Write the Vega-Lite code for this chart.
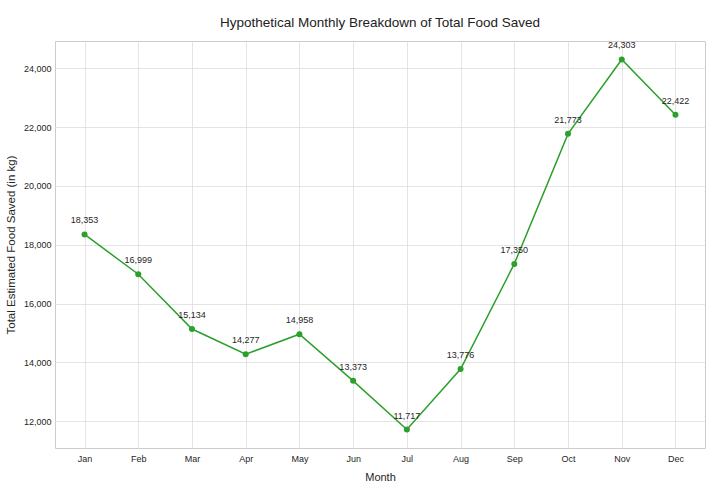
{
  "$schema": "https://vega.github.io/schema/vega-lite/v6.json",
  "autosize": "none",
  "padding": {"left": 55, "top": 41, "right": 9, "bottom": 44},
  "width": 650,
  "height": 407,
  "background": "white",
  "title": {
    "text": "Hypothetical Monthly Breakdown of Total Food Saved",
    "font": "Liberation Sans Narrow, Arial Narrow, Liberation Sans",
    "fontSize": 13.5,
    "fontWeight": "normal",
    "color": "#222222",
    "anchor": "middle",
    "offset": -2,
    "baseline": "bottom"
  },
  "config": {
    "view": {"stroke": "#cccccc", "strokeWidth": 1},
    "axis": {
      "labelFont": "Liberation Sans Narrow, Arial Narrow, Liberation Sans",
      "titleFont": "Liberation Sans",
      "labelFontSize": 9,
      "titleFontSize": 11,
      "titleFontWeight": "normal",
      "labelColor": "#262626",
      "titleColor": "#262626",
      "gridColor": "#dddddd",
      "gridWidth": 0.8,
      "domain": false,
      "ticks": false
    }
  },
  "data": {
    "values": [
      {"month": "Jan", "saved": 18353},
      {"month": "Feb", "saved": 16999},
      {"month": "Mar", "saved": 15134},
      {"month": "Apr", "saved": 14277},
      {"month": "May", "saved": 14958},
      {"month": "Jun", "saved": 13373},
      {"month": "Jul", "saved": 11717},
      {"month": "Aug", "saved": 13776},
      {"month": "Sep", "saved": 17350},
      {"month": "Oct", "saved": 21773},
      {"month": "Nov", "saved": 24303},
      {"month": "Dec", "saved": 22422}
    ]
  },
  "encoding": {
    "x": {
      "field": "month",
      "type": "ordinal",
      "sort": null,
      "scale": {"type": "point", "padding": 0.55},
      "axis": {"title": "Month", "labelAngle": 0, "labelPadding": 6, "titlePadding": 8, "grid": true}
    },
    "y": {
      "field": "saved",
      "type": "quantitative",
      "scale": {"domain": [11088, 24932], "nice": false, "zero": false},
      "axis": {"title": "Total Estimated Food Saved (in kg)", "titleFontSize": 11.5, "format": ",d", "values": [12000, 14000, 16000, 18000, 20000, 22000, 24000], "labelPadding": 4, "titlePadding": 7}
    }
  },
  "layer": [
    {"mark": {"type": "line", "color": "#2ca02c", "strokeWidth": 1.5}},
    {"mark": {"type": "point", "filled": true, "color": "#2ca02c", "size": 36, "opacity": 1}},
    {
      "mark": {"type": "text", "dy": -14, "font": "Liberation Sans Narrow, Arial Narrow, Liberation Sans", "fontSize": 9, "color": "#262626"},
      "encoding": {"text": {"field": "saved", "type": "quantitative", "format": ",d"}}
    }
  ]
}
